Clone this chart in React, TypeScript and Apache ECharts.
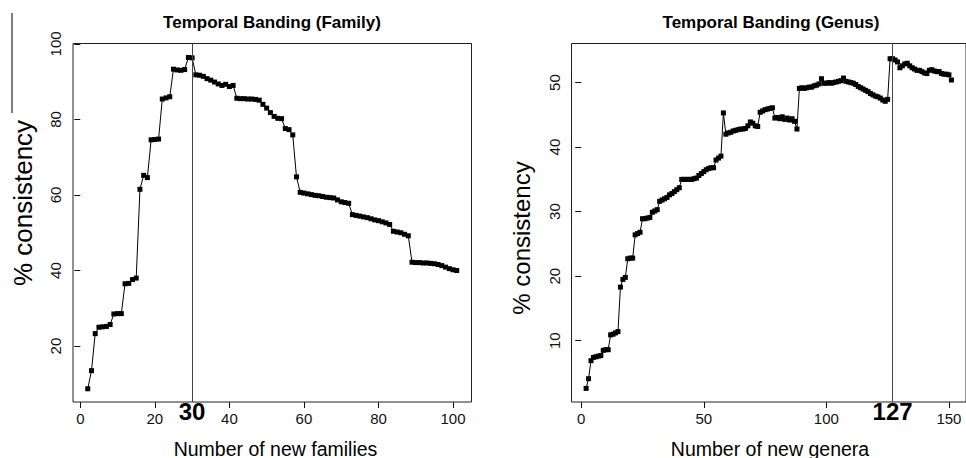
import React, { useEffect, useRef } from "react";
import * as echarts from "echarts";

// ---- data ----
const familyStart = 2; // first "number of new families" value
const familyConsistency = [
  8.7, 13.5, 23.3, 25.0, 25.1, 25.2, 25.7, 28.5, 28.6, 28.6,
  36.5, 36.6, 37.6, 38.0, 61.5, 65.2, 64.6, 74.6, 74.7, 74.8,
  85.4, 85.7, 86.0, 93.3, 93.1, 93.0, 93.2, 96.4, 96.3, 91.8,
  91.7, 91.4, 90.8, 90.4, 89.9, 89.4, 89.0, 89.3, 88.7, 89.0,
  85.6, 85.5, 85.5, 85.4, 85.4, 85.3, 85.1, 84.0, 83.0, 81.8,
  80.8, 80.3, 80.2, 77.6, 77.3, 75.9, 64.8, 60.7, 60.5, 60.3,
  60.1, 59.9, 59.8, 59.6, 59.4, 59.3, 59.2, 58.7, 58.2, 58.0,
  57.8, 54.8, 54.6, 54.4, 54.2, 54.0, 53.7, 53.4, 53.2, 52.9,
  52.6, 52.2, 50.4, 50.2, 50.0, 49.6, 49.2, 42.2, 42.1, 42.1,
  42.0, 42.0, 41.9, 41.8, 41.6, 41.3, 40.9, 40.5, 40.2, 40.0,
];

const generaStart = 2; // first "number of new genera" value
const generaConsistency = [
  2.6, 4.1, 6.9, 7.4, 7.5, 7.6, 7.7, 8.5, 8.6, 8.6,
  10.9, 11.0, 11.2, 11.4, 18.3, 19.5, 19.8, 22.7, 22.8, 22.8,
  26.4, 26.6, 26.8, 28.9, 28.9, 29.0, 29.1, 29.9, 30.1, 30.3,
  31.6, 31.8, 32.0, 32.2, 32.6, 32.8, 33.1, 33.4, 33.7, 35.0,
  35.0, 35.0, 35.0, 35.0, 35.1, 35.2, 35.6, 35.9, 36.2, 36.5,
  36.7, 36.8, 36.8, 38.0, 38.3, 38.6, 45.3, 42.0, 42.2, 42.3,
  42.5, 42.6, 42.7, 42.8, 42.8, 42.9, 43.3, 43.9, 43.7, 43.3,
  43.2, 45.4, 45.6, 45.8, 45.9, 46.0, 46.1, 44.5, 44.6, 44.4,
  44.7, 44.3, 44.5, 44.2, 44.4, 44.0, 42.8, 49.1, 49.2, 49.1,
  49.2, 49.3, 49.3, 49.5, 49.6, 49.8, 50.6, 49.9, 49.9, 50.0,
  49.9, 50.0, 50.1, 50.2, 50.3, 50.7, 50.2, 50.1, 50.0, 49.9,
  49.7, 49.4, 49.2, 49.0, 48.8, 48.6, 48.3, 48.1, 47.9, 47.8,
  47.6, 47.3, 47.1, 47.4, 53.7, 53.7, 53.5, 53.2, 52.3, 52.6,
  52.9, 53.0, 52.6, 52.3, 52.1, 51.9, 51.9, 51.7, 51.5, 51.4,
  51.9, 52.0, 51.8, 51.7, 51.7, 51.4, 51.3, 51.3, 51.2, 50.4,
];

const familyXTicks = [0, 20, 40, 60, 80, 100];
const familyYTicks = [20, 40, 60, 80, 100];
const generaXTicks = [0, 50, 100, 150];
const generaYTicks = [10, 20, 30, 40, 50];
const familyCut = 30;
const generaCut = 127;

const panelTitles = ["Temporal Banding (Family)", "Temporal Banding (Genus)"];
const xNames = ["Number of new families", "Number of new genera"];
const yName = "% consistency";

const FONT = "'Liberation Sans', Arial, Helvetica, sans-serif";

function toPairs(start: number, values: number[]) {
  return values.map((v, i) => [start + i, v]);
}

function xAxisCfg(gridIndex: number, min: number, max: number, ticks: number[]) {
  return {
    type: "value",
    gridIndex,
    min,
    max,
    axisLine: { show: false },
    splitLine: { show: false },
    axisTick: {
      show: true,
      customValues: ticks,
      length: 6,
      inside: false,
      lineStyle: { color: "#111", width: 1 },
    },
    axisLabel: {
      show: true,
      customValues: ticks,
      fontSize: 15,
      fontFamily: FONT,
      color: "#111",
      margin: 9,
    },
  };
}

function yAxisCfg(gridIndex: number, min: number, max: number, ticks: number[]) {
  return {
    type: "value",
    gridIndex,
    min,
    max,
    axisLine: { show: false },
    splitLine: { show: false },
    axisTick: {
      show: true,
      customValues: ticks,
      length: 6,
      inside: false,
      lineStyle: { color: "#111", width: 1 },
    },
    axisLabel: {
      show: true,
      customValues: ticks,
      rotate: 90,
      fontSize: 15,
      fontFamily: FONT,
      color: "#111",
      margin: 10,
      showMinLabel: true,
      showMaxLabel: true,
    },
  };
}

function seriesCfg(idx: number, start: number, values: number[], cut: number) {
  return {
    type: "line",
    xAxisIndex: idx,
    yAxisIndex: idx,
    data: toPairs(start, values),
    symbol: "rect",
    symbolSize: 5,
    showSymbol: true,
    showAllSymbol: true,
    itemStyle: { color: "#000" },
    lineStyle: { color: "#000", width: 1 },
    emphasis: { disabled: true },
    silent: true,
    markLine: {
      silent: true,
      symbol: "none",
      animation: false,
      lineStyle: { color: "#444", type: "solid", width: 1 },
      label: {
        show: true,
        position: "start",
        formatter: String(cut),
        fontSize: 24,
        fontWeight: "bold",
        fontFamily: FONT,
        color: "#000",
        distance: -3,
      },
      emphasis: { disabled: true },
      data: [{ xAxis: cut }],
    },
  };
}

export default function App() {
  const ref = useRef<HTMLDivElement>(null);

  useEffect(() => {
    if (!ref.current) return;
    const chart = echarts.init(ref.current, undefined, { renderer: "svg" });
    const textBase = { fontFamily: FONT, fill: "#000" };
    chart.setOption({
      animation: false,
      backgroundColor: "#fff",
      textStyle: { fontFamily: FONT },
      grid: [
        {
          left: 73, top: 43.5, width: 398.5, height: 358.5,
          show: true, borderColor: "#222", borderWidth: 1, backgroundColor: "transparent",
        },
        {
          left: 571.5, top: 43.5, width: 398.5, height: 358.5,
          show: true, borderColor: "#222", borderWidth: 1, backgroundColor: "transparent",
        },
      ],
      xAxis: [
        xAxisCfg(0, -1.96, 104.96, familyXTicks),
        xAxisCfg(1, -3.96, 156.96, generaXTicks),
      ],
      yAxis: [
        yAxisCfg(0, 5.2, 100.1, familyYTicks),
        yAxisCfg(1, 0.49, 56.06, generaYTicks),
      ],
      series: [
        seriesCfg(0, familyStart, familyConsistency, familyCut),
        seriesCfg(1, generaStart, generaConsistency, generaCut),
      ],
      graphic: [
        {
          type: "text", x: 272, y: 22, silent: true,
          style: { ...textBase, text: panelTitles[0], fontSize: 17, fontWeight: "bold", textAlign: "center", textVerticalAlign: "middle" },
        },
        {
          type: "text", x: 771, y: 22, silent: true,
          style: { ...textBase, text: panelTitles[1], fontSize: 17, fontWeight: "bold", textAlign: "center", textVerticalAlign: "middle" },
        },
        {
          type: "text", x: 275.5, y: 448.5, silent: true,
          style: { ...textBase, text: xNames[0], fontSize: 19.5, textAlign: "center", textVerticalAlign: "middle" },
        },
        {
          type: "text", x: 770, y: 448.5, silent: true,
          style: { ...textBase, text: xNames[1], fontSize: 19.5, textAlign: "center", textVerticalAlign: "middle" },
        },
        {
          type: "text", x: 22.5, y: 203, rotation: Math.PI / 2, silent: true,
          style: { ...textBase, text: yName, fontSize: 26, textAlign: "center", textVerticalAlign: "middle" },
        },
        {
          type: "text", x: 521, y: 238, rotation: Math.PI / 2, silent: true,
          style: { ...textBase, text: yName, fontSize: 24, textAlign: "center", textVerticalAlign: "middle" },
        },
        {
          type: "line", silent: true,
          shape: { x1: 12, y1: 13, x2: 12, y2: 113 },
          style: { stroke: "#000", lineWidth: 1 },
        },
      ],
    });
    return () => chart.dispose();
  }, []);

  return (
    <div
      ref={ref}
      style={{ position: "fixed", left: 0, top: 0, width: 966, height: 458, background: "#fff" }}
    />
  );
}
